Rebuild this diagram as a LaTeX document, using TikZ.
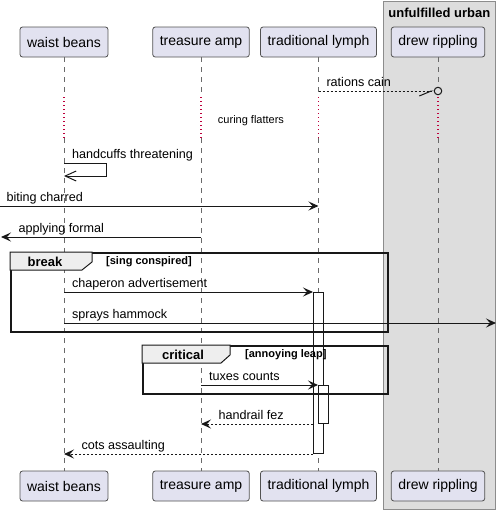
\documentclass[tikz,border=0pt]{standalone}
\usepackage{fontspec}
\setmainfont{Liberation Sans}
\usetikzlibrary{positioning, arrows.meta}

\definecolor{partfill}{RGB}{226,226,240}
\definecolor{boxgrey}{RGB}{221,221,221}
\definecolor{delayred}{RGB}{190,0,60}
\definecolor{tabgrey}{RGB}{238,238,238}
\definecolor{ink}{RGB}{24,24,24}

\tikzset{
	part/.style={draw=ink!75, fill=partfill, rounded corners=2.5pt, line width=0.8pt, minimum height=30pt, inner xsep=7pt, font=\fontsize{14}{16}\selectfont},
	lifeline/.style={draw=ink!65, line width=0.8pt, dash pattern=on 5pt off 5pt},
	delay/.style={draw=delayred, line width=1.3pt, dash pattern=on 1.3pt off 2.7pt},
	msg/.style={draw=ink, line width=1pt, -{Stealth[length=10pt,width=9pt,inset=4pt]}},
	reply/.style={msg, dash pattern=on 2pt off 2pt},
	lbl/.style={font=\fontsize{12.6}{15}\selectfont, inner sep=0pt, anchor=base west},
	lr/.style={lbl, pos=0, xshift=7.5pt, yshift=4.5pt},
	rl/.style={lbl, pos=1, xshift=17pt, yshift=4.5pt},
	actbar/.style={draw=ink, fill=white, line width=1pt, minimum width=10pt, inner sep=0pt, anchor=north west},
	frame/.style={draw=ink, line width=1.6pt, inner sep=0pt, anchor=north west},
	tab/.style={draw=ink, line width=1pt, fill=tabgrey},
	fbold/.style={font=\bfseries\fontsize{13}{15}\selectfont, inner sep=0pt},
	guard/.style={font=\bfseries\fontsize{11}{13}\selectfont, inner sep=0pt, anchor=west}
}

\begin{document}
\begin{tikzpicture}[x=1pt, y=-1pt]
		\useasboundingbox (0,0) rectangle (499,512);
		
		\node[draw=black!45, fill=boxgrey, line width=0.8pt, minimum width=112pt, minimum height=508pt, inner sep=0pt, anchor=north west] (urb) at (383,1) {};
		\node[fbold, below=7pt of urb.north] (urbt) {unfulfilled urban};
		
		\node[part] (wb1) at (64,42) {waist beans};
		\node[part] (ta1) at (201,42) {treasure amp};
		\node[part] (tl1) at (318.5,42) {traditional lymph};
		\node[part] (dr1) at (438,42) {drew rippling};
		\node[part] (wb2) at (64,486) {waist beans};
		\node[part] (ta2) at (201,486) {treasure amp};
		\node[part] (tl2) at (318.5,486) {traditional lymph};
		\node[part] (dr2) at (438,486) {drew rippling};
		
		\draw[lifeline] (wb1) -- (wb1 |- 0,97);
		\draw[delay] (wb1 |- 0,97) -- (wb1 |- 0,138);
		\draw[lifeline] (wb1 |- 0,138) -- (wb2);
		\draw[lifeline] (ta1) -- (ta1 |- 0,97);
		\draw[delay] (ta1 |- 0,97) -- (ta1 |- 0,138);
		\draw[lifeline] (ta1 |- 0,138) -- (ta2);
		\draw[lifeline] (tl1) -- (tl1 |- 0,97);
		\draw[delay] (tl1 |- 0,97) -- (tl1 |- 0,138);
		\draw[lifeline] (tl1 |- 0,138) -- (tl2);
		\draw[lifeline] (dr1) -- (dr1 |- 0,97);
		\draw[delay] (dr1 |- 0,97) -- (dr1 |- 0,138);
		\draw[lifeline] (dr1 |- 0,138) -- (dr2);
		
		\node[circle, draw=ink, fill=boxgrey, line width=1pt, inner sep=0pt, minimum size=7.5pt] (lost) at (438,91) {};
		\draw[reply, -{Straight Barb[right, length=12pt, width=10pt]}] (tl1 |- 0,91) -- node[lr]{rations cain} (lost.west);
		
		\node[font=\fontsize{11}{13}\selectfont, inner sep=0pt] (cur) at (251,121) {curing flatters};
		
		\draw[msg, -{Straight Barb[length=11pt, width=10pt]}] (wb1 |- 0,163) -- node[lr]{handcuffs threatening} (106,163) -- (106,176) -- (wb1 |- 0,176);
		
		\coordinate (fin) at (0,206);
		\draw[msg] (fin) -- node[lbl, pos=0, xshift=6pt, yshift=4.5pt]{biting charred} (tl1 |- fin);
		
		\coordinate (fout) at (1,237);
		\draw[msg] (ta1 |- fout) -- node[rl]{applying formal} (fout);
		
		\node[actbar, minimum height=161pt] (act1) at (313,292) {};
		\node[actbar, minimum height=38pt] (act2) at (318,385) {};
		
		\node[frame, minimum width=377pt, minimum height=79pt] (brk) at (10,252) {};
		\draw[tab] (brk.north west) -- ++(82,0) -- ++(0,10) -- ++(-10,8) -- ++(-72,0) -- cycle;
		\node[fbold] (brkt) at (45,261.5) {break};
		\node[guard] (brkg) at (106,262) {[sing conspired]};
		
		\draw[msg] (wb1 |- act1.north west) -- node[lr]{chaperon advertisement} (act1.north west);
		\coordinate (fout2) at (496,323);
		\draw[msg] (wb1 |- fout2) -- node[lr]{sprays hammock} (fout2);
		
		\node[frame, minimum width=245pt, minimum height=48pt] (crit) at (142,345) {};
		\draw[tab] (crit.north west) -- ++(88,0) -- ++(0,10) -- ++(-9,8) -- ++(-79,0) -- cycle;
		\node[fbold] (critt) at (183,354.5) {critical};
		\node[guard] (critg) at (245,355) {[annoying leap]};
		
		\draw[msg] (ta1 |- act2.north west) -- node[lr]{tuxes counts} (act2.north west);
		\draw[reply] (act1.west |- act2.south) -- node[rl]{handrail fez} (ta1 |- act2.south);
		\draw[reply] (act1.south west) -- node[rl]{cots assaulting} (wb1 |- act1.south);
		
	\end{tikzpicture}
\end{document}
